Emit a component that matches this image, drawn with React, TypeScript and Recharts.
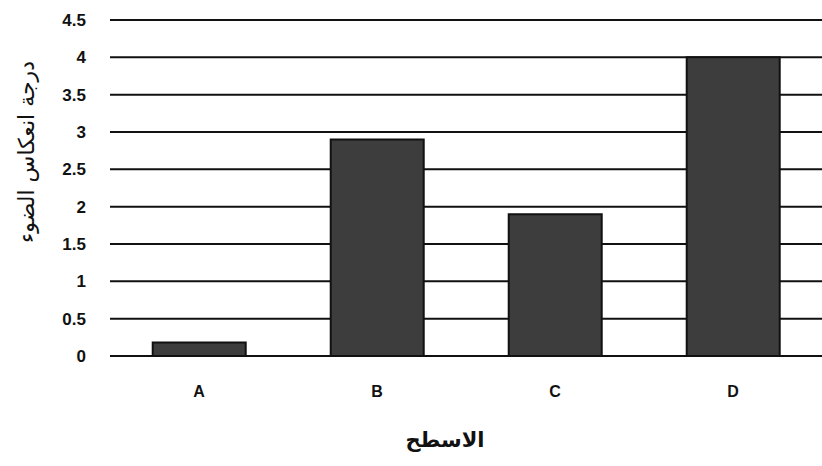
import { BarChart, Bar, XAxis, YAxis, CartesianGrid } from "recharts";

const surfaces = ["A", "B", "C", "D"];
const reflection = [0.18, 2.9, 1.9, 4.0];
const yTicks = [0, 0.5, 1, 1.5, 2, 2.5, 3, 3.5, 4, 4.5];

const data = surfaces.map((name, i) => ({ name, value: reflection[i] }));

export default function App() {
  return (
    <div style={{ position: "absolute", left: 0, top: 0, width: 822, height: 466, background: "#fff" }}>
      <BarChart
        width={822}
        height={466}
        data={data}
        margin={{ top: 20, right: 0, left: 0, bottom: 50 }}
        barCategoryGap="24%"
      >
        <CartesianGrid vertical={false} stroke="#111" strokeWidth={2} />
        <XAxis
          dataKey="name"
          axisLine={false}
          tickLine={false}
          tickMargin={24}
          height={60}
          tick={{ fill: "#111", fontSize: 16, fontWeight: 700, fontFamily: "Liberation Sans" }}
        />
        <YAxis
          domain={[0, 4.5]}
          ticks={yTicks}
          axisLine={false}
          tickLine={false}
          width={110}
          tickMargin={18}
          tick={{ fill: "#111", fontSize: 17, fontWeight: 700, fontFamily: "Liberation Sans" }}
        />
        <Bar dataKey="value" fill="#3d3d3d" stroke="#111" strokeWidth={2} isAnimationActive={false} />
      </BarChart>
      <div
        style={{
          position: "absolute",
          left: 26,
          top: 152,
          transform: "translate(-50%, -50%) rotate(-90deg)",
          whiteSpace: "nowrap",
          fontFamily: "DejaVu Sans",
          fontSize: 22,
          color: "#111",
          direction: "rtl",
        }}
      >
        درجة انعكاس الضوء
      </div>
      <div
        style={{
          position: "absolute",
          left: 445,
          top: 440,
          transform: "translate(-50%, -50%)",
          whiteSpace: "nowrap",
          fontFamily: "DejaVu Sans",
          fontWeight: 700,
          fontSize: 21,
          color: "#111",
          direction: "rtl",
        }}
      >
        الاسطح
      </div>
    </div>
  );
}
